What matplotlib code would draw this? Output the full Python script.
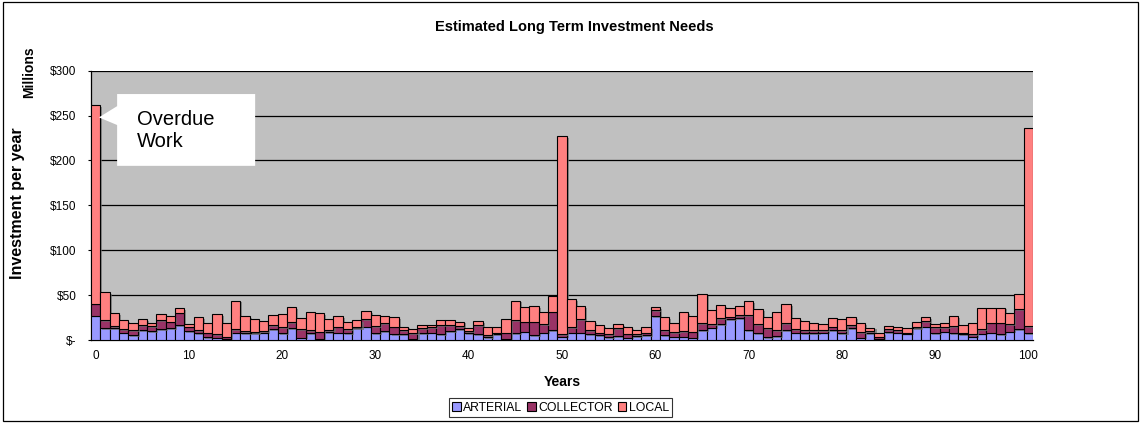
import matplotlib
matplotlib.use("Agg")
import matplotlib.pyplot as plt
import matplotlib.patheffects as pe
from matplotlib.patches import Polygon, Rectangle
from matplotlib.ticker import FixedLocator, FuncFormatter
import numpy as np

plt.rcParams['font.family'] = ['Liberation Sans', 'DejaVu Sans']

# ---- data (millions of dollars per year) ----
years = list(range(0, 101))
arterial = [27, 13, 13, 8, 5.2, 10.7, 9.6, 11.9, 13, 16.3,
            10, 7.4, 3.3, 2.6, 1.5, 8, 7.4, 7.4, 8.1, 11.9,
            7.4, 13, 2.6, 7.4, 0.7, 8.9, 8.1, 7.4, 13, 14.8,
            7.4, 10, 6.3, 6.3, 0.7, 7.4, 8.1, 6.3, 10, 11.9,
            7.4, 6.3, 3.3, 6.3, 1.5, 7.4, 9.3, 5.2, 8.1, 10.7,
            3.7, 8.1, 8.1, 6.3, 5.6, 3.3, 4.4, 2.6, 4.4, 5.2,
            26.7, 5.2, 3.7, 3.7, 2.6, 10.7, 13.7, 17.4, 23, 24.1,
            10.7, 7.4, 3.3, 4.4, 10.7, 8.1, 7.4, 7.4, 8.1, 11.1,
            7.4, 13, 2.6, 7.4, 1.5, 8.9, 8.1, 7, 13, 14.8,
            7.4, 9.3, 7.4, 6.3, 3.7, 7, 8.1, 6.3, 9.3, 11.9,
            7.4]
collector = [13.4, 9, 2.5, 3.9, 5.8, 5.6, 5.9, 10, 7.4, 14.1,
             4.8, 3.6, 4.7, 3.7, 2.2, 3.9, 2.6, 1.5, 1.9, 4.4,
             7, 6.6, 9.3, 3.3, 8.6, 1.8, 6.7, 4.5, 1, 8.2,
             8.1, 8.5, 8.5, 4.4, 6.7, 5.6, 6.3, 10, 6.3, 3.6,
             2.6, 10.4, 2.3, 1.8, 6.6, 14.5, 11.1, 15.2, 9.3, 20.8,
             2.6, 6.3, 14.9, 4.4, 2.5, 3, 8.6, 4.4, 1.9, 2.9,
             6.3, 5.5, 5.2, 6.3, 6.7, 7.8, 3.7, 6.6, 2.9, 3.3,
             16.7, 10, 9.7, 6.3, 7.8, 3.8, 3.3, 3.3, 2.6, 3.7,
             3.3, 3.3, 6.3, 2.6, 2.2, 3, 2.6, 1.1, 1.4, 6.3,
             7, 5.1, 8.1, 1.8, 2.6, 4.9, 11.2, 13, 8.1, 22.2,
             8.1]
local = [221.1, 31, 14.1, 10, 8.3, 6.7, 3.8, 6.6, 6.3, 4.8,
         2.6, 14.6, 10.5, 22.2, 14.8, 32.1, 16.7, 14.1, 11, 11.1,
         14.1, 16.7, 12.1, 20.4, 20.3, 12.3, 11.9, 7.7, 8.2, 9.2,
         12.3, 8.2, 10.8, 4.1, 4.5, 3.3, 1.9, 5.6, 5.6, 4.9,
         3, 4.4, 9.2, 6.7, 14.9, 22.1, 15.9, 17.4, 13.7, 17.8,
         220.7, 30.8, 14.4, 10.4, 8.2, 6.7, 4.4, 7.4, 4.4, 6.3,
         3.3, 14.9, 9.6, 21.1, 17.4, 32.2, 15.6, 14.5, 10, 10.4,
         15.9, 16.7, 12.6, 20.4, 21.1, 12.1, 10.4, 8.6, 6.7, 9.2,
         12.3, 9.3, 9.6, 3.7, 3.7, 3.6, 3.7, 5.6, 5.6, 4.5,
         3.7, 4.9, 11.2, 8.2, 13, 23.3, 16.6, 16.6, 13, 16.6,
         220.5]
series_names = ["ARTERIAL", "COLLECTOR", "LOCAL"]
series_colors = ["#9999FF", "#993366", "#FF8080"]
y_ticks = [0, 50, 100, 150, 200, 250, 300]
x_ticks = [0, 10, 20, 30, 40, 50, 60, 70, 80, 90, 100]

W, H = 1141, 423
fig = plt.figure(figsize=(W / 100, H / 100), dpi=100)
fig.patch.set_facecolor("white")


def fx(px):
    return px / W


def fy(py):
    return 1 - py / H


# outer chart border
fig.add_artist(Rectangle((fx(2.5), fy(420.5)), fx(1138) - fx(2.5), fy(2.5) - fy(420.5),
                         transform=fig.transFigure, fill=False, edgecolor="black",
                         linewidth=0.9))

ax = fig.add_axes([fx(91), fy(340), fx(1033) - fx(91), fy(70.7) - fy(340)])
ax.set_facecolor("#C0C0C0")

shadow = [pe.SimplePatchShadow(offset=(1.5, -1.2), shadow_rgbFace="#6f6f6f", alpha=0.7),
          pe.Normal()]

x = np.array(years)
bottom = np.zeros(len(years))
handles = []
for name, vals, col in zip(series_names, [arterial, collector, local], series_colors):
    vals = np.array(vals, dtype=float)
    bars = ax.bar(x, vals, width=1.0, bottom=bottom, color=col, edgecolor="black",
                  linewidth=0.8, label=name, zorder=3)
    for b in bars:
        b.set_path_effects(shadow)
    handles.append(bars)
    bottom += vals

ax.set_xlim(-0.5, 100.5)
ax.set_ylim(0, 300)
ax.yaxis.set_major_locator(FixedLocator(y_ticks))
ax.yaxis.set_major_formatter(FuncFormatter(lambda v, p: "$-" if v == 0 else f"${int(v)}"))
ax.xaxis.set_major_locator(FixedLocator(x_ticks))
ax.grid(axis="y", color="black", linewidth=0.9, zorder=1)
ax.set_axisbelow(True)
for s in ["top", "right"]:
    ax.spines[s].set_visible(False)
ax.spines["left"].set_linewidth(0.9)
ax.spines["bottom"].set_linewidth(0.9)
ax.tick_params(axis="y", direction="out", length=2.5, width=0.8, labelsize=8.5, pad=8)
ax.tick_params(axis="x", length=0, labelsize=8.5, pad=7)

fig.text(fx(574), fy(27), "Estimated Long Term Investment Needs", ha="center", va="center",
         fontsize=10.5, fontweight="bold")
fig.text(fx(562), fy(382), "Years", ha="center", va="center", fontsize=10, fontweight="bold")
fig.text(fx(18), fy(203), "Investment per year", ha="center", va="center", rotation=90,
         fontsize=11.5, fontweight="bold")
fig.text(fx(29), fy(72), "Millions", ha="center", va="center", rotation=90,
         fontsize=10, fontweight="bold")

# callout pointing at the first bar
call = Polygon([(2.3, 274), (17.1, 274), (17.1, 194), (2.3, 194), (2.3, 239.5),
                (0.35, 248), (2.3, 260.5)], closed=True, facecolor="white",
               edgecolor="none", zorder=6)
ax.add_patch(call)
ax.text(4.4, 233.5, "Overdue\nWork", ha="left", va="center", fontsize=14.5,
        linespacing=1.2, zorder=7)

leg = fig.legend(handles, series_names, loc="center", bbox_to_anchor=(fx(560.5), fy(407.5)),
                 ncol=3, fontsize=8.8, frameon=True, fancybox=False, edgecolor="black",
                 handlelength=0.7, handleheight=0.7, handletextpad=0.2,
                 columnspacing=0.4, borderpad=0.25, borderaxespad=0)
leg.get_frame().set_linewidth(0.8)
for h in leg.legend_handles:
    h.set_path_effects([])

fig.savefig("out.png", dpi=100)
